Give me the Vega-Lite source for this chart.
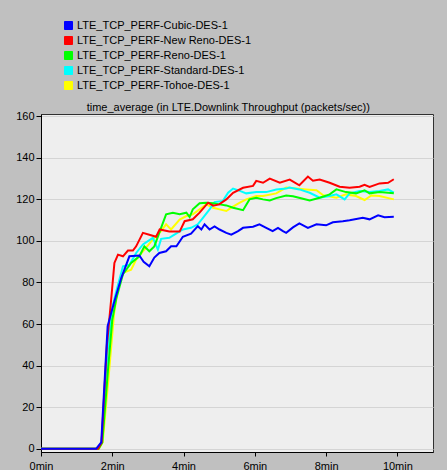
{
  "$schema": "https://vega.github.io/schema/vega-lite/v6.json",
  "autosize": {"type": "none"},
  "width": 392,
  "height": 338,
  "padding": {"left": 41, "top": 114, "right": 14, "bottom": 18},
  "background": "#c0c0c0",
  "config": {
    "font": "Liberation Sans",
    "view": {"fill": "#eeeeee", "stroke": "#303030", "strokeWidth": 1}
  },
  "title": {
    "text": "time_average (in LTE.Downlink Throughput (packets/sec))",
    "anchor": "start",
    "dx": 71,
    "dy": 97,
    "offset": 4,
    "fontSize": 11,
    "fontWeight": "normal",
    "color": "#000000",
    "font": "Liberation Sans"
  },
  "data": {
    "values": [
      {"s": "LTE_TCP_PERF-Tohoe-DES-1", "t": 0, "v": 0},
      {"s": "LTE_TCP_PERF-Tohoe-DES-1", "t": 1.62, "v": 0},
      {"s": "LTE_TCP_PERF-Tohoe-DES-1", "t": 1.73, "v": 3},
      {"s": "LTE_TCP_PERF-Tohoe-DES-1", "t": 1.9, "v": 35},
      {"s": "LTE_TCP_PERF-Tohoe-DES-1", "t": 2.05, "v": 65},
      {"s": "LTE_TCP_PERF-Tohoe-DES-1", "t": 2.15, "v": 76},
      {"s": "LTE_TCP_PERF-Tohoe-DES-1", "t": 2.3, "v": 84.6},
      {"s": "LTE_TCP_PERF-Tohoe-DES-1", "t": 2.53, "v": 86.2},
      {"s": "LTE_TCP_PERF-Tohoe-DES-1", "t": 2.67, "v": 91},
      {"s": "LTE_TCP_PERF-Tohoe-DES-1", "t": 2.9, "v": 95.8},
      {"s": "LTE_TCP_PERF-Tohoe-DES-1", "t": 3.14, "v": 100.7},
      {"s": "LTE_TCP_PERF-Tohoe-DES-1", "t": 3.37, "v": 104.7},
      {"s": "LTE_TCP_PERF-Tohoe-DES-1", "t": 3.51, "v": 108},
      {"s": "LTE_TCP_PERF-Tohoe-DES-1", "t": 3.65, "v": 105.5},
      {"s": "LTE_TCP_PERF-Tohoe-DES-1", "t": 3.89, "v": 110.3},
      {"s": "LTE_TCP_PERF-Tohoe-DES-1", "t": 4.08, "v": 112},
      {"s": "LTE_TCP_PERF-Tohoe-DES-1", "t": 4.26, "v": 112.8},
      {"s": "LTE_TCP_PERF-Tohoe-DES-1", "t": 4.45, "v": 115.2},
      {"s": "LTE_TCP_PERF-Tohoe-DES-1", "t": 4.64, "v": 117.6},
      {"s": "LTE_TCP_PERF-Tohoe-DES-1", "t": 4.83, "v": 116},
      {"s": "LTE_TCP_PERF-Tohoe-DES-1", "t": 5.01, "v": 115.2},
      {"s": "LTE_TCP_PERF-Tohoe-DES-1", "t": 5.2, "v": 114.4},
      {"s": "LTE_TCP_PERF-Tohoe-DES-1", "t": 5.34, "v": 116},
      {"s": "LTE_TCP_PERF-Tohoe-DES-1", "t": 5.58, "v": 118.4},
      {"s": "LTE_TCP_PERF-Tohoe-DES-1", "t": 5.76, "v": 120},
      {"s": "LTE_TCP_PERF-Tohoe-DES-1", "t": 6.04, "v": 121.6},
      {"s": "LTE_TCP_PERF-Tohoe-DES-1", "t": 6.23, "v": 121.6},
      {"s": "LTE_TCP_PERF-Tohoe-DES-1", "t": 6.6, "v": 122.9},
      {"s": "LTE_TCP_PERF-Tohoe-DES-1", "t": 6.88, "v": 125.7},
      {"s": "LTE_TCP_PERF-Tohoe-DES-1", "t": 7.16, "v": 125.2},
      {"s": "LTE_TCP_PERF-Tohoe-DES-1", "t": 7.44, "v": 124.8},
      {"s": "LTE_TCP_PERF-Tohoe-DES-1", "t": 7.73, "v": 124.4},
      {"s": "LTE_TCP_PERF-Tohoe-DES-1", "t": 7.92, "v": 122},
      {"s": "LTE_TCP_PERF-Tohoe-DES-1", "t": 8.29, "v": 120.8},
      {"s": "LTE_TCP_PERF-Tohoe-DES-1", "t": 8.56, "v": 122.4},
      {"s": "LTE_TCP_PERF-Tohoe-DES-1", "t": 8.84, "v": 121.6},
      {"s": "LTE_TCP_PERF-Tohoe-DES-1", "t": 9.08, "v": 119.7},
      {"s": "LTE_TCP_PERF-Tohoe-DES-1", "t": 9.27, "v": 121.9},
      {"s": "LTE_TCP_PERF-Tohoe-DES-1", "t": 9.5, "v": 121.6},
      {"s": "LTE_TCP_PERF-Tohoe-DES-1", "t": 9.9, "v": 120},

      {"s": "LTE_TCP_PERF-Standard-DES-1", "t": 0, "v": 0},
      {"s": "LTE_TCP_PERF-Standard-DES-1", "t": 1.6, "v": 0},
      {"s": "LTE_TCP_PERF-Standard-DES-1", "t": 1.7, "v": 3},
      {"s": "LTE_TCP_PERF-Standard-DES-1", "t": 1.86, "v": 45},
      {"s": "LTE_TCP_PERF-Standard-DES-1", "t": 2.0, "v": 68},
      {"s": "LTE_TCP_PERF-Standard-DES-1", "t": 2.1, "v": 75},
      {"s": "LTE_TCP_PERF-Standard-DES-1", "t": 2.3, "v": 87.8},
      {"s": "LTE_TCP_PERF-Standard-DES-1", "t": 2.48, "v": 88.5},
      {"s": "LTE_TCP_PERF-Standard-DES-1", "t": 2.67, "v": 94.2},
      {"s": "LTE_TCP_PERF-Standard-DES-1", "t": 2.86, "v": 98.3},
      {"s": "LTE_TCP_PERF-Standard-DES-1", "t": 3.14, "v": 101.5},
      {"s": "LTE_TCP_PERF-Standard-DES-1", "t": 3.28, "v": 95.8},
      {"s": "LTE_TCP_PERF-Standard-DES-1", "t": 3.37, "v": 101},
      {"s": "LTE_TCP_PERF-Standard-DES-1", "t": 3.6, "v": 101.5},
      {"s": "LTE_TCP_PERF-Standard-DES-1", "t": 3.79, "v": 103.5},
      {"s": "LTE_TCP_PERF-Standard-DES-1", "t": 3.98, "v": 105.5},
      {"s": "LTE_TCP_PERF-Standard-DES-1", "t": 4.21, "v": 106.3},
      {"s": "LTE_TCP_PERF-Standard-DES-1", "t": 4.4, "v": 108},
      {"s": "LTE_TCP_PERF-Standard-DES-1", "t": 4.55, "v": 111.2},
      {"s": "LTE_TCP_PERF-Standard-DES-1", "t": 4.73, "v": 115.2},
      {"s": "LTE_TCP_PERF-Standard-DES-1", "t": 4.87, "v": 118.7},
      {"s": "LTE_TCP_PERF-Standard-DES-1", "t": 5.1, "v": 119.2},
      {"s": "LTE_TCP_PERF-Standard-DES-1", "t": 5.25, "v": 123.2},
      {"s": "LTE_TCP_PERF-Standard-DES-1", "t": 5.39, "v": 125.2},
      {"s": "LTE_TCP_PERF-Standard-DES-1", "t": 5.58, "v": 124.1},
      {"s": "LTE_TCP_PERF-Standard-DES-1", "t": 5.76, "v": 122.9},
      {"s": "LTE_TCP_PERF-Standard-DES-1", "t": 6.04, "v": 123.5},
      {"s": "LTE_TCP_PERF-Standard-DES-1", "t": 6.32, "v": 123.5},
      {"s": "LTE_TCP_PERF-Standard-DES-1", "t": 6.6, "v": 124.8},
      {"s": "LTE_TCP_PERF-Standard-DES-1", "t": 6.88, "v": 125.2},
      {"s": "LTE_TCP_PERF-Standard-DES-1", "t": 6.97, "v": 125.7},
      {"s": "LTE_TCP_PERF-Standard-DES-1", "t": 7.25, "v": 124.8},
      {"s": "LTE_TCP_PERF-Standard-DES-1", "t": 7.54, "v": 123.2},
      {"s": "LTE_TCP_PERF-Standard-DES-1", "t": 7.82, "v": 120.8},
      {"s": "LTE_TCP_PERF-Standard-DES-1", "t": 8.1, "v": 121.6},
      {"s": "LTE_TCP_PERF-Standard-DES-1", "t": 8.29, "v": 122.4},
      {"s": "LTE_TCP_PERF-Standard-DES-1", "t": 8.52, "v": 120},
      {"s": "LTE_TCP_PERF-Standard-DES-1", "t": 8.66, "v": 122.9},
      {"s": "LTE_TCP_PERF-Standard-DES-1", "t": 8.94, "v": 124},
      {"s": "LTE_TCP_PERF-Standard-DES-1", "t": 9.22, "v": 123.5},
      {"s": "LTE_TCP_PERF-Standard-DES-1", "t": 9.5, "v": 124},
      {"s": "LTE_TCP_PERF-Standard-DES-1", "t": 9.74, "v": 124.8},
      {"s": "LTE_TCP_PERF-Standard-DES-1", "t": 9.9, "v": 123.2},

      {"s": "LTE_TCP_PERF-Reno-DES-1", "t": 0, "v": 0},
      {"s": "LTE_TCP_PERF-Reno-DES-1", "t": 1.62, "v": 0},
      {"s": "LTE_TCP_PERF-Reno-DES-1", "t": 1.72, "v": 3},
      {"s": "LTE_TCP_PERF-Reno-DES-1", "t": 1.88, "v": 38},
      {"s": "LTE_TCP_PERF-Reno-DES-1", "t": 2.0, "v": 62},
      {"s": "LTE_TCP_PERF-Reno-DES-1", "t": 2.11, "v": 72},
      {"s": "LTE_TCP_PERF-Reno-DES-1", "t": 2.3, "v": 84},
      {"s": "LTE_TCP_PERF-Reno-DES-1", "t": 2.53, "v": 89.4},
      {"s": "LTE_TCP_PERF-Reno-DES-1", "t": 2.76, "v": 92.6},
      {"s": "LTE_TCP_PERF-Reno-DES-1", "t": 2.9, "v": 97.4},
      {"s": "LTE_TCP_PERF-Reno-DES-1", "t": 3.04, "v": 95},
      {"s": "LTE_TCP_PERF-Reno-DES-1", "t": 3.18, "v": 97.4},
      {"s": "LTE_TCP_PERF-Reno-DES-1", "t": 3.37, "v": 106.3},
      {"s": "LTE_TCP_PERF-Reno-DES-1", "t": 3.51, "v": 112.8},
      {"s": "LTE_TCP_PERF-Reno-DES-1", "t": 3.7, "v": 113.6},
      {"s": "LTE_TCP_PERF-Reno-DES-1", "t": 3.89, "v": 112.8},
      {"s": "LTE_TCP_PERF-Reno-DES-1", "t": 4.08, "v": 113.6},
      {"s": "LTE_TCP_PERF-Reno-DES-1", "t": 4.17, "v": 111.5},
      {"s": "LTE_TCP_PERF-Reno-DES-1", "t": 4.26, "v": 115.2},
      {"s": "LTE_TCP_PERF-Reno-DES-1", "t": 4.45, "v": 118.1},
      {"s": "LTE_TCP_PERF-Reno-DES-1", "t": 4.64, "v": 118.4},
      {"s": "LTE_TCP_PERF-Reno-DES-1", "t": 4.83, "v": 118.1},
      {"s": "LTE_TCP_PERF-Reno-DES-1", "t": 5.01, "v": 117.6},
      {"s": "LTE_TCP_PERF-Reno-DES-1", "t": 5.2, "v": 117.1},
      {"s": "LTE_TCP_PERF-Reno-DES-1", "t": 5.39, "v": 116},
      {"s": "LTE_TCP_PERF-Reno-DES-1", "t": 5.67, "v": 114.8},
      {"s": "LTE_TCP_PERF-Reno-DES-1", "t": 5.85, "v": 120},
      {"s": "LTE_TCP_PERF-Reno-DES-1", "t": 6.04, "v": 120.8},
      {"s": "LTE_TCP_PERF-Reno-DES-1", "t": 6.23, "v": 120},
      {"s": "LTE_TCP_PERF-Reno-DES-1", "t": 6.42, "v": 119.5},
      {"s": "LTE_TCP_PERF-Reno-DES-1", "t": 6.6, "v": 120.6},
      {"s": "LTE_TCP_PERF-Reno-DES-1", "t": 6.88, "v": 121.9},
      {"s": "LTE_TCP_PERF-Reno-DES-1", "t": 7.07, "v": 121.5},
      {"s": "LTE_TCP_PERF-Reno-DES-1", "t": 7.35, "v": 120.3},
      {"s": "LTE_TCP_PERF-Reno-DES-1", "t": 7.54, "v": 119.5},
      {"s": "LTE_TCP_PERF-Reno-DES-1", "t": 7.82, "v": 120.8},
      {"s": "LTE_TCP_PERF-Reno-DES-1", "t": 8.1, "v": 122.4},
      {"s": "LTE_TCP_PERF-Reno-DES-1", "t": 8.29, "v": 124.8},
      {"s": "LTE_TCP_PERF-Reno-DES-1", "t": 8.56, "v": 123.5},
      {"s": "LTE_TCP_PERF-Reno-DES-1", "t": 8.84, "v": 122.9},
      {"s": "LTE_TCP_PERF-Reno-DES-1", "t": 9.08, "v": 124.4},
      {"s": "LTE_TCP_PERF-Reno-DES-1", "t": 9.22, "v": 122.9},
      {"s": "LTE_TCP_PERF-Reno-DES-1", "t": 9.5, "v": 123.5},
      {"s": "LTE_TCP_PERF-Reno-DES-1", "t": 9.9, "v": 122.9},

      {"s": "LTE_TCP_PERF-New Reno-DES-1", "t": 0, "v": 0},
      {"s": "LTE_TCP_PERF-New Reno-DES-1", "t": 1.6, "v": 0},
      {"s": "LTE_TCP_PERF-New Reno-DES-1", "t": 1.7, "v": 3},
      {"s": "LTE_TCP_PERF-New Reno-DES-1", "t": 1.85, "v": 50},
      {"s": "LTE_TCP_PERF-New Reno-DES-1", "t": 1.97, "v": 72},
      {"s": "LTE_TCP_PERF-New Reno-DES-1", "t": 2.06, "v": 89.4},
      {"s": "LTE_TCP_PERF-New Reno-DES-1", "t": 2.16, "v": 93.4},
      {"s": "LTE_TCP_PERF-New Reno-DES-1", "t": 2.3, "v": 92.6},
      {"s": "LTE_TCP_PERF-New Reno-DES-1", "t": 2.44, "v": 95.4},
      {"s": "LTE_TCP_PERF-New Reno-DES-1", "t": 2.58, "v": 95.4},
      {"s": "LTE_TCP_PERF-New Reno-DES-1", "t": 2.67, "v": 97.4},
      {"s": "LTE_TCP_PERF-New Reno-DES-1", "t": 2.86, "v": 103.9},
      {"s": "LTE_TCP_PERF-New Reno-DES-1", "t": 3.04, "v": 103},
      {"s": "LTE_TCP_PERF-New Reno-DES-1", "t": 3.23, "v": 102},
      {"s": "LTE_TCP_PERF-New Reno-DES-1", "t": 3.33, "v": 105.5},
      {"s": "LTE_TCP_PERF-New Reno-DES-1", "t": 3.6, "v": 104.5},
      {"s": "LTE_TCP_PERF-New Reno-DES-1", "t": 3.89, "v": 104.5},
      {"s": "LTE_TCP_PERF-New Reno-DES-1", "t": 4.03, "v": 109.5},
      {"s": "LTE_TCP_PERF-New Reno-DES-1", "t": 4.26, "v": 110.4},
      {"s": "LTE_TCP_PERF-New Reno-DES-1", "t": 4.45, "v": 113.6},
      {"s": "LTE_TCP_PERF-New Reno-DES-1", "t": 4.69, "v": 118.4},
      {"s": "LTE_TCP_PERF-New Reno-DES-1", "t": 4.83, "v": 117},
      {"s": "LTE_TCP_PERF-New Reno-DES-1", "t": 5.0, "v": 117.6},
      {"s": "LTE_TCP_PERF-New Reno-DES-1", "t": 5.2, "v": 120},
      {"s": "LTE_TCP_PERF-New Reno-DES-1", "t": 5.39, "v": 123.2},
      {"s": "LTE_TCP_PERF-New Reno-DES-1", "t": 5.67, "v": 125.6},
      {"s": "LTE_TCP_PERF-New Reno-DES-1", "t": 5.95, "v": 126.5},
      {"s": "LTE_TCP_PERF-New Reno-DES-1", "t": 6.04, "v": 128.9},
      {"s": "LTE_TCP_PERF-New Reno-DES-1", "t": 6.23, "v": 128},
      {"s": "LTE_TCP_PERF-New Reno-DES-1", "t": 6.42, "v": 130},
      {"s": "LTE_TCP_PERF-New Reno-DES-1", "t": 6.7, "v": 128},
      {"s": "LTE_TCP_PERF-New Reno-DES-1", "t": 6.98, "v": 129.5},
      {"s": "LTE_TCP_PERF-New Reno-DES-1", "t": 7.25, "v": 126.8},
      {"s": "LTE_TCP_PERF-New Reno-DES-1", "t": 7.49, "v": 131},
      {"s": "LTE_TCP_PERF-New Reno-DES-1", "t": 7.63, "v": 129},
      {"s": "LTE_TCP_PERF-New Reno-DES-1", "t": 7.82, "v": 129.6},
      {"s": "LTE_TCP_PERF-New Reno-DES-1", "t": 8.1, "v": 128},
      {"s": "LTE_TCP_PERF-New Reno-DES-1", "t": 8.38, "v": 126.1},
      {"s": "LTE_TCP_PERF-New Reno-DES-1", "t": 8.66, "v": 125.6},
      {"s": "LTE_TCP_PERF-New Reno-DES-1", "t": 8.94, "v": 126.1},
      {"s": "LTE_TCP_PERF-New Reno-DES-1", "t": 9.08, "v": 127},
      {"s": "LTE_TCP_PERF-New Reno-DES-1", "t": 9.22, "v": 126},
      {"s": "LTE_TCP_PERF-New Reno-DES-1", "t": 9.5, "v": 127.7},
      {"s": "LTE_TCP_PERF-New Reno-DES-1", "t": 9.74, "v": 128},
      {"s": "LTE_TCP_PERF-New Reno-DES-1", "t": 9.9, "v": 129.7},

      {"s": "LTE_TCP_PERF-Cubic-DES-1", "t": 0, "v": 0},
      {"s": "LTE_TCP_PERF-Cubic-DES-1", "t": 1.55, "v": 0},
      {"s": "LTE_TCP_PERF-Cubic-DES-1", "t": 1.69, "v": 3},
      {"s": "LTE_TCP_PERF-Cubic-DES-1", "t": 1.87, "v": 59},
      {"s": "LTE_TCP_PERF-Cubic-DES-1", "t": 2.06, "v": 71},
      {"s": "LTE_TCP_PERF-Cubic-DES-1", "t": 2.25, "v": 82},
      {"s": "LTE_TCP_PERF-Cubic-DES-1", "t": 2.48, "v": 92.6},
      {"s": "LTE_TCP_PERF-Cubic-DES-1", "t": 2.76, "v": 93},
      {"s": "LTE_TCP_PERF-Cubic-DES-1", "t": 2.88, "v": 90},
      {"s": "LTE_TCP_PERF-Cubic-DES-1", "t": 3.04, "v": 87.8},
      {"s": "LTE_TCP_PERF-Cubic-DES-1", "t": 3.18, "v": 92},
      {"s": "LTE_TCP_PERF-Cubic-DES-1", "t": 3.32, "v": 94.2},
      {"s": "LTE_TCP_PERF-Cubic-DES-1", "t": 3.51, "v": 95},
      {"s": "LTE_TCP_PERF-Cubic-DES-1", "t": 3.65, "v": 97.4},
      {"s": "LTE_TCP_PERF-Cubic-DES-1", "t": 3.8, "v": 97.4},
      {"s": "LTE_TCP_PERF-Cubic-DES-1", "t": 3.98, "v": 102},
      {"s": "LTE_TCP_PERF-Cubic-DES-1", "t": 4.21, "v": 103.5},
      {"s": "LTE_TCP_PERF-Cubic-DES-1", "t": 4.4, "v": 107.1},
      {"s": "LTE_TCP_PERF-Cubic-DES-1", "t": 4.5, "v": 105.5},
      {"s": "LTE_TCP_PERF-Cubic-DES-1", "t": 4.59, "v": 108},
      {"s": "LTE_TCP_PERF-Cubic-DES-1", "t": 4.73, "v": 105.5},
      {"s": "LTE_TCP_PERF-Cubic-DES-1", "t": 4.87, "v": 107},
      {"s": "LTE_TCP_PERF-Cubic-DES-1", "t": 5.01, "v": 105.5},
      {"s": "LTE_TCP_PERF-Cubic-DES-1", "t": 5.2, "v": 103.9},
      {"s": "LTE_TCP_PERF-Cubic-DES-1", "t": 5.34, "v": 103},
      {"s": "LTE_TCP_PERF-Cubic-DES-1", "t": 5.53, "v": 104.7},
      {"s": "LTE_TCP_PERF-Cubic-DES-1", "t": 5.67, "v": 106.3},
      {"s": "LTE_TCP_PERF-Cubic-DES-1", "t": 5.95, "v": 106.8},
      {"s": "LTE_TCP_PERF-Cubic-DES-1", "t": 6.13, "v": 108},
      {"s": "LTE_TCP_PERF-Cubic-DES-1", "t": 6.32, "v": 106.3},
      {"s": "LTE_TCP_PERF-Cubic-DES-1", "t": 6.5, "v": 104.7},
      {"s": "LTE_TCP_PERF-Cubic-DES-1", "t": 6.65, "v": 106.3},
      {"s": "LTE_TCP_PERF-Cubic-DES-1", "t": 6.79, "v": 104.7},
      {"s": "LTE_TCP_PERF-Cubic-DES-1", "t": 6.88, "v": 103.9},
      {"s": "LTE_TCP_PERF-Cubic-DES-1", "t": 7.07, "v": 106.5},
      {"s": "LTE_TCP_PERF-Cubic-DES-1", "t": 7.25, "v": 108.4},
      {"s": "LTE_TCP_PERF-Cubic-DES-1", "t": 7.49, "v": 106.3},
      {"s": "LTE_TCP_PERF-Cubic-DES-1", "t": 7.73, "v": 108},
      {"s": "LTE_TCP_PERF-Cubic-DES-1", "t": 8.0, "v": 107.5},
      {"s": "LTE_TCP_PERF-Cubic-DES-1", "t": 8.19, "v": 109},
      {"s": "LTE_TCP_PERF-Cubic-DES-1", "t": 8.47, "v": 109.5},
      {"s": "LTE_TCP_PERF-Cubic-DES-1", "t": 8.66, "v": 110},
      {"s": "LTE_TCP_PERF-Cubic-DES-1", "t": 9.03, "v": 111.2},
      {"s": "LTE_TCP_PERF-Cubic-DES-1", "t": 9.22, "v": 110.4},
      {"s": "LTE_TCP_PERF-Cubic-DES-1", "t": 9.46, "v": 112.3},
      {"s": "LTE_TCP_PERF-Cubic-DES-1", "t": 9.64, "v": 111.4},
      {"s": "LTE_TCP_PERF-Cubic-DES-1", "t": 9.9, "v": 111.6}
    ]
  },
  "mark": {"type": "line", "strokeWidth": 2, "clip": true},
  "encoding": {
    "x": {
      "field": "t",
      "type": "quantitative",
      "scale": {"domain": [0, 11], "nice": false, "zero": false},
      "axis": {
        "title": null,
        "values": [0, 2, 4, 6, 8, 10],
        "labelExpr": "datum.value + 'min'",
        "grid": false,
        "domainColor": "#000000",
        "tickColor": "#000000",
        "tickSize": 4,
        "labelColor": "#000000",
        "labelFontSize": 11,
        "labelFont": "Liberation Sans",
        "labelPadding": 4,
        "labelFlush": false,
        "labelOverlap": false
      }
    },
    "y": {
      "field": "v",
      "type": "quantitative",
      "scale": {"domain": [-1.6, 161.1], "nice": false, "zero": false},
      "axis": {
        "title": null,
        "values": [0, 20, 40, 60, 80, 100, 120, 140, 160],
        "grid": true,
        "gridColor": "#d4d4d4",
        "gridWidth": 1,
        "domainColor": "#000000",
        "tickColor": "#000000",
        "tickSize": 5,
        "labelColor": "#000000",
        "labelFontSize": 11,
        "labelFont": "Liberation Sans",
        "labelPadding": 2,
        "labelFlush": false,
        "labelOverlap": false
      }
    },
    "color": {
      "field": "s",
      "type": "nominal",
      "scale": {
        "domain": ["LTE_TCP_PERF-Cubic-DES-1", "LTE_TCP_PERF-New Reno-DES-1", "LTE_TCP_PERF-Reno-DES-1", "LTE_TCP_PERF-Standard-DES-1", "LTE_TCP_PERF-Tohoe-DES-1"],
        "range": ["#0000ff", "#ff0000", "#00ff00", "#00ffff", "#ffff00"]
      },
      "legend": {
        "title": null,
        "orient": "none",
        "legendX": 22,
        "legendY": -94,
        "padding": 0,
        "symbolType": "square",
        "symbolSize": 64,
        "symbolStrokeWidth": 1,
        "labelFontSize": 11,
        "labelFont": "Liberation Sans",
        "labelColor": "#000000",
        "labelOffset": 3,
        "labelLimit": 400,
        "rowPadding": 2,
        "encode": {
          "symbols": {
            "update": {
              "fill": {"scale": "color", "field": "value"},
              "stroke": {"value": "#000000"},
              "fillOpacity": {"value": 1}
            }
          }
        }
      }
    }
  }
}
